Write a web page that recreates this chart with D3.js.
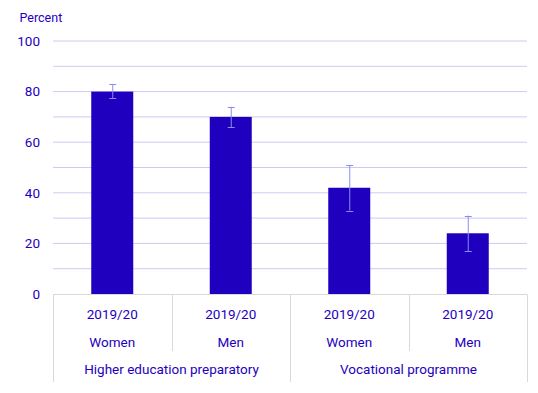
<!DOCTYPE html>
<html>
<head>
<meta charset="utf-8">
<script src="https://cdn.jsdelivr.net/npm/d3@7"></script>
<style>
  body { margin: 0; background: #fff; }
  svg text { font-family: Roboto, "Noto Sans", sans-serif; fill: #1e00be; }
</style>
</head>
<body>
<svg id="chart" width="538" height="393"></svg>
<script>
const years = ["2019/20", "2019/20", "2019/20", "2019/20"];
const sexes = ["Women", "Men", "Women", "Men"];
const groups = ["Higher education preparatory", "Vocational programme"];
const values = [80, 70, 42, 24];
const errLow = [77.5, 66, 33, 17];
const errHigh = [83, 74, 51, 31];
const yTicks = [0, 20, 40, 60, 80, 100];
const gridTicks = [0, 10, 20, 30, 40, 50, 60, 70, 80, 90, 100];

const svg = d3.select("#chart");
const margin = { left: 53, right: 11, top: 41, bottom: 99 };
const width = 538, height = 393;

const x = d3.scaleBand()
    .domain(d3.range(values.length))
    .range([margin.left, width - margin.right])
    .paddingInner(0).paddingOuter(0);

const y = d3.scaleLinear()
    .domain([0, 100])
    .range([height - margin.bottom, margin.top]);

// gridlines
svg.append("g").selectAll("line")
    .data(gridTicks.filter(d => d > 0))
    .join("line")
    .attr("x1", margin.left)
    .attr("x2", width - margin.right)
    .attr("y1", d => y(d))
    .attr("y2", d => y(d))
    .attr("stroke", "#cdcaf2")
    .attr("stroke-width", 1);

// y labels
svg.append("g").selectAll("text")
    .data(yTicks)
    .join("text")
    .attr("x", 40)
    .attr("y", d => y(d))
    .attr("dy", "0.35em")
    .attr("text-anchor", "end")
    .attr("font-size", 13.5)
    .text(d => d);

svg.append("text")
    .attr("x", 19.5)
    .attr("y", 22)
    .attr("font-size", 12.5)
    .text("Percent");

// bars
const barW = 42;
svg.append("g").selectAll("rect")
    .data(values)
    .join("rect")
    .attr("x", (d, i) => x(i) + x.bandwidth() / 2 - barW / 2)
    .attr("y", d => y(d))
    .attr("width", barW)
    .attr("height", d => y(0) - y(d))
    .attr("fill", "#1e00be");

// error bars
const err = svg.append("g")
    .attr("stroke", "#8c8cf0")
    .attr("stroke-width", 1);
values.forEach((v, i) => {
    const cx = x(i) + x.bandwidth() / 2 + 0.5;
    err.append("line").attr("x1", cx).attr("x2", cx).attr("y1", y(errLow[i])).attr("y2", y(errHigh[i]));
    err.append("line").attr("x1", cx - 3.5).attr("x2", cx + 3.5).attr("y1", Math.round(y(errHigh[i])) + 0.5).attr("y2", Math.round(y(errHigh[i])) + 0.5);
    err.append("line").attr("x1", cx - 3.5).attr("x2", cx + 3.5).attr("y1", Math.round(y(errLow[i])) + 0.5).attr("y2", Math.round(y(errLow[i])) + 0.5);
});

// category axis
const axis = svg.append("g").attr("stroke", "#d9d9d9").attr("stroke-width", 1);
const y0 = Math.round(y(0)) + 0.5;
axis.append("line")
    .attr("x1", margin.left).attr("x2", width - margin.right)
    .attr("y1", y0).attr("y2", y0);
d3.range(values.length + 1).forEach(i => {
    const xx = Math.round(i < values.length ? x(i) : x(i - 1) + x.bandwidth()) + 0.5;
    const outer = i % 2 === 0;
    axis.append("line")
        .attr("x1", xx).attr("x2", xx)
        .attr("y1", y0).attr("y2", outer ? 382 : 351);
});

const lbl = svg.append("g").attr("text-anchor", "middle").attr("font-size", 13.5);
values.forEach((v, i) => {
    const cx = x(i) + x.bandwidth() / 2;
    lbl.append("text").attr("x", cx).attr("y", 314).attr("dy", "0.35em").text(years[i]);
    lbl.append("text").attr("x", cx).attr("y", 342).attr("dy", "0.35em").text(sexes[i]);
});
groups.forEach((g, j) => {
    const cx = x(j * 2) + x.bandwidth();
    lbl.append("text").attr("x", cx).attr("y", 369.5).attr("dy", "0.35em").text(g);
});
</script>
</body>
</html>
